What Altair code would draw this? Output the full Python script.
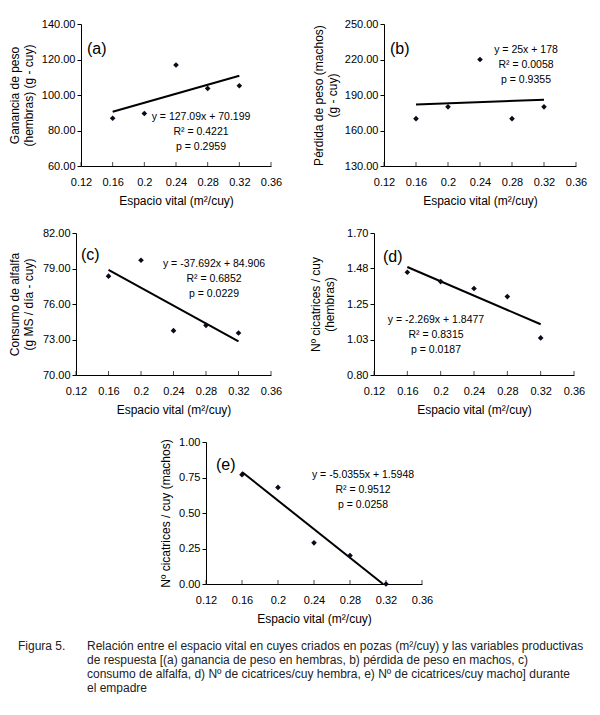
import altair as alt
import pandas as pd

# ---------------- data ----------------
x_vals = [0.16, 0.20, 0.24, 0.28, 0.32]
ganancia_hembras = [86.9, 89.6, 116.9, 103.7, 105.2]
perdida_machos = [170.0, 180.0, 220.0, 170.0, 180.0]
consumo_alfalfa = [78.35, 79.7, 73.75, 74.2, 73.55]
cicatrices_hembras = [1.451, 1.392, 1.348, 1.297, 1.035]
cicatrices_machos = [0.77, 0.68, 0.29, 0.20, 0.00]

slopes = [127.09, 25.0, -37.692, -2.269, -5.0355]
intercepts = [70.199, 178.0, 84.906, 1.8477, 1.5948]
eq_texts = ["y = 127.09x + 70.199", "y = 25x + 178", "y = -37.692x + 84.906",
            "y = -2.269x + 1.8477", "y = -5.0355x + 1.5948"]
r2_texts = ["R² = 0.4221", "R² = 0.0058", "R² = 0.6852", "R² = 0.8315", "R² = 0.9512"]
p_texts = ["p = 0.2959", "p = 0.9355", "p = 0.0229", "p = 0.0187", "p = 0.0258"]
letters = ["(a)", "(b)", "(c)", "(d)", "(e)"]
y_titles = [["Ganancia de peso", "(hembras) (g - cuy)"],
            ["Pérdida de peso (machos)", "(g - cuy)"],
            ["Consumo de alfalfa", "(g MS / día - cuy)"],
            ["Nº cicatrices / cuy", "(hembras)"],
            "Nº cicatrices / cuy (machos)"]
y_domains = [[60, 140], [130, 250], [70, 82], [0.8, 1.7], [0, 1]]
y_ticks = [[60, 80, 100, 120, 140], [130, 160, 190, 220, 250], [70, 73, 76, 79, 82],
           [0.8, 1.025, 1.25, 1.475, 1.7], [0, 0.25, 0.5, 0.75, 1.0]]
x_domain = [0.12, 0.36]
x_ticks = [0.12, 0.16, 0.20, 0.24, 0.28, 0.32, 0.36]
x_title = "Espacio vital (m²/cuy)"

caption_label = "Figura 5."
caption_lines = [
    "Relación entre el espacio vital en cuyes criados en pozas (m²/cuy) y las variables productivas",
    "de respuesta [(a) ganancia de peso en hembras, b) pérdida de peso en machos, c)",
    "consumo de alfalfa, d) Nº de cicatrices/cuy hembra, e) Nº de cicatrices/cuy macho] durante",
    "el empadre",
]

FONT = "Liberation Sans"
CAP_FONT = "Liberation Sans Narrow, Liberation Sans"
CELL_W = 190


def txt(t, x, y, size, align="center", font=FONT, color="black"):
    return alt.Chart(pd.DataFrame({"t": [t]})).mark_text(
        align=align, baseline="middle", font=font, fontSize=size, color=color).encode(
        x=alt.value(x), y=alt.value(y), text="t:N")


def panel(i, ys, w, h, tpad, letter_xy, eq_xy, shift=0, cell_w=CELL_W, x_end=None, clip=True):
    """shift: pixel offset of the plot area inside its grid cell."""
    df = pd.DataFrame({"x": x_vals, "y": ys})
    x_last = x_vals[-1] if x_end is None else x_end
    line_df = pd.DataFrame({"x": [x_vals[0], x_last]})
    line_df["y"] = slopes[i] * line_df["x"] + intercepts[i]

    X = alt.X("x:Q", scale=alt.Scale(domain=x_domain, nice=False, zero=False,
                                     range=[shift, shift + w]),
              axis=alt.Axis(values=x_ticks, format=".2~f", title=x_title,
                            ticks=False, tickSize=0, labelPadding=10, titlePadding=8,
                            labelOverlap=False, labelFlush=False, grid=False))
    Y = alt.Y("y:Q", scale=alt.Scale(domain=y_domains[i], nice=False, zero=False),
              axis=alt.Axis(values=y_ticks[i], labelExpr="format(datum.value + 1e-9, '.2f')",
                            title=y_titles[i], tickSize=4, labelPadding=2, offset=-shift,
                            labelOverlap=False, labelFlush=False, titlePadding=tpad, grid=False))

    line = alt.Chart(line_df).mark_line(color="black", strokeWidth=2, clip=clip).encode(x=X, y=Y)
    pts = alt.Chart(df).mark_point(shape="diamond", filled=True, size=32, color="#0a0a1a",
                                   opacity=1).encode(x=X, y=Y)
    xt = alt.Chart(pd.DataFrame({"x": x_ticks})).mark_tick(
        color="black", thickness=1, size=4, yOffset=-2).encode(x=X, y=alt.value(h))
    let = txt(letters[i], shift + letter_xy[0], letter_xy[1], 16, align="left")
    e1 = txt(eq_texts[i], shift + eq_xy[0], eq_xy[1], 10.5)
    e2 = txt(r2_texts[i], shift + eq_xy[0], eq_xy[1] + 15, 10.5)
    e3 = txt(p_texts[i], shift + eq_xy[0], eq_xy[1] + 30, 10.5)
    return alt.layer(line, pts, xt, let, e1, e2, e3).properties(width=cell_w, height=h)


pa = panel(0, ganancia_hembras, 190, 142, 6, (6, 25), (120, 93))
pb = panel(1, perdida_machos, 192, 142, 5, (6, 25), (142, 26), cell_w=192)
pc = panel(2, consumo_alfalfa, 195, 142, 7, (5, 22), (138, 31), shift=-5, clip=False)
pd_ = panel(3, cicatrices_hembras, 200, 142, 10, (9, 24), (62, 87), shift=-10, cell_w=192,
            clip=False)
# (e) sits centred under the two columns: its plot is shifted inside the first cell
pe = panel(4, cicatrices_machos, 216, 142, 6, (10, 23), (157, 33), shift=125,
           x_end=-intercepts[4] / slopes[4], clip=False)

spacer = alt.Chart(pd.DataFrame({"a": [0]})).mark_point(opacity=0).encode(
    x=alt.value(0), y=alt.value(0)).properties(width=10, height=10)

cap_layers = [txt(caption_label, -63, -5, 12, align="left", font=CAP_FONT, color="#222")]
for k, line_t in enumerate(caption_lines):
    cap_layers.append(txt(line_t, 6, -5 + 14 * k, 12, align="left", font=CAP_FONT, color="#222"))
caption = alt.layer(*cap_layers).properties(width=17, height=30)

chart = alt.concat(pa, pb, pc, pd_, pe, spacer, caption, columns=2,
                   bounds="flush", spacing={"row": 67, "column": 113}).properties(
    padding={"left": 0, "top": 10, "right": 0, "bottom": 0}
).configure_view(stroke=None).configure_axis(
    labelFont=FONT, labelFontSize=11, labelColor="black",
    titleFont=FONT, titleFontSize=12, titleFontWeight="normal", titleColor="black",
    domainColor="black", tickColor="black", domainWidth=1
)

chart.save("out.html", embed_options={"renderer": "svg", "actions": False})
